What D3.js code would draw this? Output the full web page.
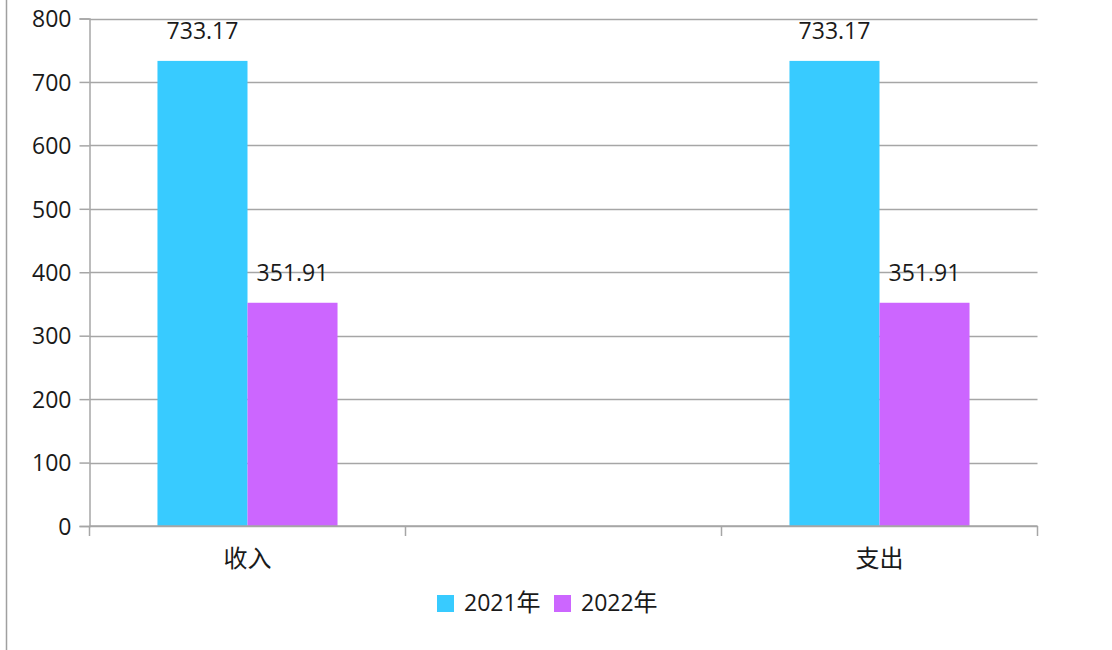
<!DOCTYPE html>
<html><head><meta charset="utf-8">
<script src="https://cdn.jsdelivr.net/npm/d3@7"></script>
<style>body{margin:0;background:#fff}svg{display:block}</style>
</head><body>
<svg id="c" width="1112" height="650"></svg>
<script>
const categories = ["收入", "", "支出"];
const seriesNames = ["2021年", "2022年"];
const values2021 = [733.17, null, 733.17];
const values2022 = [351.91, null, 351.91];
const yTicks = [0, 100, 200, 300, 400, 500, 600, 700, 800];
const colors = ["#38CBFF", "#CC66FF"];

const svg = d3.select("#c");
const numFont = "'Open Sans', sans-serif";
const cjkFont = "'Noto Sans CJK SC', sans-serif";

// left border line
svg.append("line").attr("x1", 6.5).attr("x2", 6.5).attr("y1", 0).attr("y2", 650)
  .attr("stroke", "#a0a0a0").attr("stroke-width", 1.5);

const x = d3.scaleBand().domain(categories).range([89.5, 1037.5]).padding(0);
const x1 = d3.scaleBand().domain(seriesNames).range([0, x.bandwidth()]).paddingInner(0).paddingOuter(0.755);
const y = d3.scaleLinear().domain([0, 800]).range([526, 18.5]);

// gridlines
svg.append("g").selectAll("line").data(yTicks).join("line")
  .attr("x1", 89.5).attr("x2", 1037.5)
  .attr("y1", d => Math.round(y(d)) + 0.5).attr("y2", d => Math.round(y(d)) + 0.5)
  .attr("stroke", "#a6a6a6").attr("stroke-width", 1.5);

// y axis
const yAxis = svg.append("g").attr("transform", "translate(89.5,0)")
  .call(d3.axisLeft(y).tickValues(yTicks).tickSize(10).tickPadding(8).tickFormat(d3.format("d")));
yAxis.select(".domain").attr("stroke", "#a6a6a6").attr("stroke-width", 1.5);
yAxis.selectAll(".tick line").attr("stroke", "#a6a6a6").attr("stroke-width", 1.5);
yAxis.selectAll(".tick text").attr("font-family", numFont).attr("font-size", 23).attr("fill", "#1a1a1a").attr("dy", "0.36em");

// bars
const series = [values2021, values2022];
const g = svg.append("g");
seriesNames.forEach((s, si) => {
  const data = categories.map((c, i) => ({c, v: series[si][i]})).filter(d => d.v != null);
  g.selectAll(null).data(data).join("rect")
    .attr("x", d => x(d.c) + x1(s))
    .attr("width", x1.bandwidth())
    .attr("y", d => y(d.v))
    .attr("height", d => y(0) - y(d.v))
    .attr("fill", colors[si]);
  g.selectAll(null).data(data).join("text")
    .attr("x", d => x(d.c) + x1(s) + x1.bandwidth() / 2)
    .attr("y", d => y(d.v) - 22)
    .attr("text-anchor", "middle")
    .attr("font-family", numFont).attr("font-size", 23).attr("fill", "#1a1a1a")
    .text(d => d.v.toFixed(2));
});

// x axis
const xa = svg.append("g");
xa.append("line").attr("x1", 89.5).attr("x2", 1037.5).attr("y1", y(0)).attr("y2", y(0))
  .attr("stroke", "#a6a6a6").attr("stroke-width", 1.5);
const bounds = categories.map(c => x(c)).concat([x(categories[categories.length - 1]) + x.bandwidth()]);
xa.selectAll(null).data(bounds).join("line")
  .attr("x1", d => d).attr("x2", d => d).attr("y1", y(0)).attr("y2", y(0) + 10)
  .attr("stroke", "#a6a6a6").attr("stroke-width", 1.5);
xa.selectAll(null).data(categories).join("text")
  .attr("x", d => x(d) + x.bandwidth() / 2)
  .attr("y", 567)
  .attr("text-anchor", "middle")
  .attr("font-family", cjkFont).attr("font-size", 24).attr("fill", "#1a1a1a")
  .text(d => d);

// legend
const legend = svg.append("g");
const legendX = [437, 554];
seriesNames.forEach((s, i) => {
  legend.append("rect").attr("x", legendX[i]).attr("y", 595).attr("width", 17).attr("height", 17).attr("fill", colors[i]);
  const t = legend.append("text").attr("x", legendX[i] + 27).attr("y", 611)
    .attr("font-family", numFont).attr("font-size", 23).attr("fill", "#1a1a1a");
  t.append("tspan").text(s.replace("年", ""));
  t.append("tspan").attr("font-family", cjkFont).attr("font-size", 24).text("年");
});
</script>
</body></html>
